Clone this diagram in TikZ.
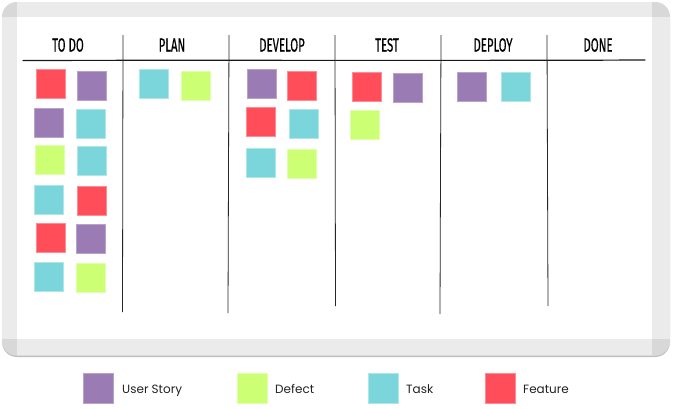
\documentclass[tikz,border=0pt]{standalone}
\usepackage{fontspec}
\newfontfamily\headfont[FakeBold=0.8]{Fira Sans}
\newfontfamily\legfont{Poppins}
\definecolor{cred}{RGB}{255,78,89}
\definecolor{cpurple}{RGB}{155,123,180}
\definecolor{cteal}{RGB}{122,214,218}
\definecolor{cgreen}{RGB}{204,255,115}
\definecolor{framegray}{RGB}{235,235,235}
\definecolor{cornergray}{RGB}{216,216,216}
\definecolor{shadowgray}{RGB}{190,190,190}
\definecolor{txt}{RGB}{34,34,34}
\begin{document}
\begin{tikzpicture}[x=1pt,y=-1pt,
  sticky/.style={rectangle, minimum width=29pt, minimum height=29pt, inner sep=0pt, outer sep=0pt, line width=0.6pt},
  us/.style={sticky, fill=cpurple, draw=cpurple!70!white},
  df/.style={sticky, fill=cgreen, draw=cgreen!60!white},
  tk/.style={sticky, fill=cteal, draw=cteal!60!white},
  ft/.style={sticky, fill=cred, draw=cred!65!white},
  legbox/.style={minimum width=30pt, minimum height=30pt},
  head/.style={font=\headfont\fontsize{19}{19}\selectfont, text=black, inner sep=0pt},
  legtext/.style={font=\legfont\fontsize{12}{14}\selectfont, text=txt, anchor=base west, inner sep=0pt},
  sep/.style={line width=0.8pt, draw=black!85}
]
\useasboundingbox (0,0) rectangle (673,408);
% board frame
\fill[shadowgray, rounded corners=15pt] (2,4) rectangle (670,357);
\begin{scope}
  \clip[rounded corners=15pt] (2,2) rectangle (670,355.5);
  \fill[framegray] (2,2) rectangle (670,356);
  \fill[cornergray] (2,2) rectangle (17,17);
  \fill[cornergray] (652,2) rectangle (670,17);
  \fill[cornergray] (2,339) rectangle (17,356);
  \fill[cornergray] (652,339) rectangle (670,356);
\end{scope}
\fill[white] (17,17) rectangle (652,339);
% header line
\coordinate (hl) at (23,60.5);
\coordinate (hr) at (645,60);
\draw[line width=1.2pt, black!90, line cap=round] (hl) .. controls (200,60) and (450,60.8) .. (hr);
% separators
\foreach \n/\xt/\xb/\yb in {s1/123/122.5/312, s2/229/228/313, s3/335/335.5/306, s4/441/440/314, s5/547/548/306}{
  \coordinate (\n t) at (\xt,35);
  \coordinate (\n b) at (\xb,\yb);
  \draw[sep] (\n t) -- (\n b);
}
% headers
\node[head] (htodo) at (68,45) {\scalebox{0.6}[1]{TO DO}};
\node[head] (hplan) at (172,45) {\scalebox{0.6}[1]{PLAN}};
\node[head] (hdev) at (282,45) {\scalebox{0.6}[1]{DEVELOP}};
\node[head] (htest) at (387,45) {\scalebox{0.6}[1]{TEST}};
\node[head] (hdep) at (493,45) {\scalebox{0.6}[1]{DEPLOY}};
\node[head] (hdone) at (598,45) {\scalebox{0.6}[1]{DONE}};
% TO DO stickies
\node[ft] (t1) at (50.5,84) {};
\node[us] (t2) at (92,85.5) {};
\node[us] (t3) at (48.5,122.5) {};
\node[tk] (t4) at (90.5,123.5) {};
\node[df] (t5) at (50,159.5) {};
\node[tk] (t6) at (92,160.5) {};
\node[tk] (t7) at (48.5,199.5) {};
\node[ft] (t8) at (92,201) {};
\node[ft] (t9) at (50.5,237.5) {};
\node[us] (t10) at (90.5,239) {};
\node[tk] (t11) at (48.5,276.5) {};
\node[df] (t12) at (90.5,277.5) {};
% PLAN
\node[tk] (p1) at (153.5,84) {};
\node[df] (p2) at (195.5,86) {};
% DEVELOP
\node[us] (d1) at (262,84) {};
\node[ft] (d2) at (301.5,85.5) {};
\node[ft] (d3) at (260.5,122) {};
\node[tk] (d4) at (303.5,123.5) {};
\node[tk] (d5) at (260.5,162.5) {};
\node[df] (d6) at (302,164) {};
% TEST
\node[ft] (e1) at (367,86.5) {};
\node[us] (e2) at (408,87.5) {};
\node[df] (e3) at (364.5,125) {};
% DEPLOY
\node[us] (y1) at (471.5,86.5) {};
\node[tk] (y2) at (515.5,86.5) {};
% legend
\node[us, legbox] (lus) at (98.5,388) {};
\node[legtext] (lust) at (122,393) {User Story};
\node[df, legbox] (ldf) at (252,388) {};
\node[legtext] (ldft) at (275,393) {Defect};
\node[tk, legbox] (ltk) at (383,388) {};
\node[legtext] (ltkt) at (406,393) {Task};
\node[ft, legbox] (lft) at (500,388) {};
\node[legtext] (lftt) at (523,393) {Feature};
\end{tikzpicture}
\end{document}
